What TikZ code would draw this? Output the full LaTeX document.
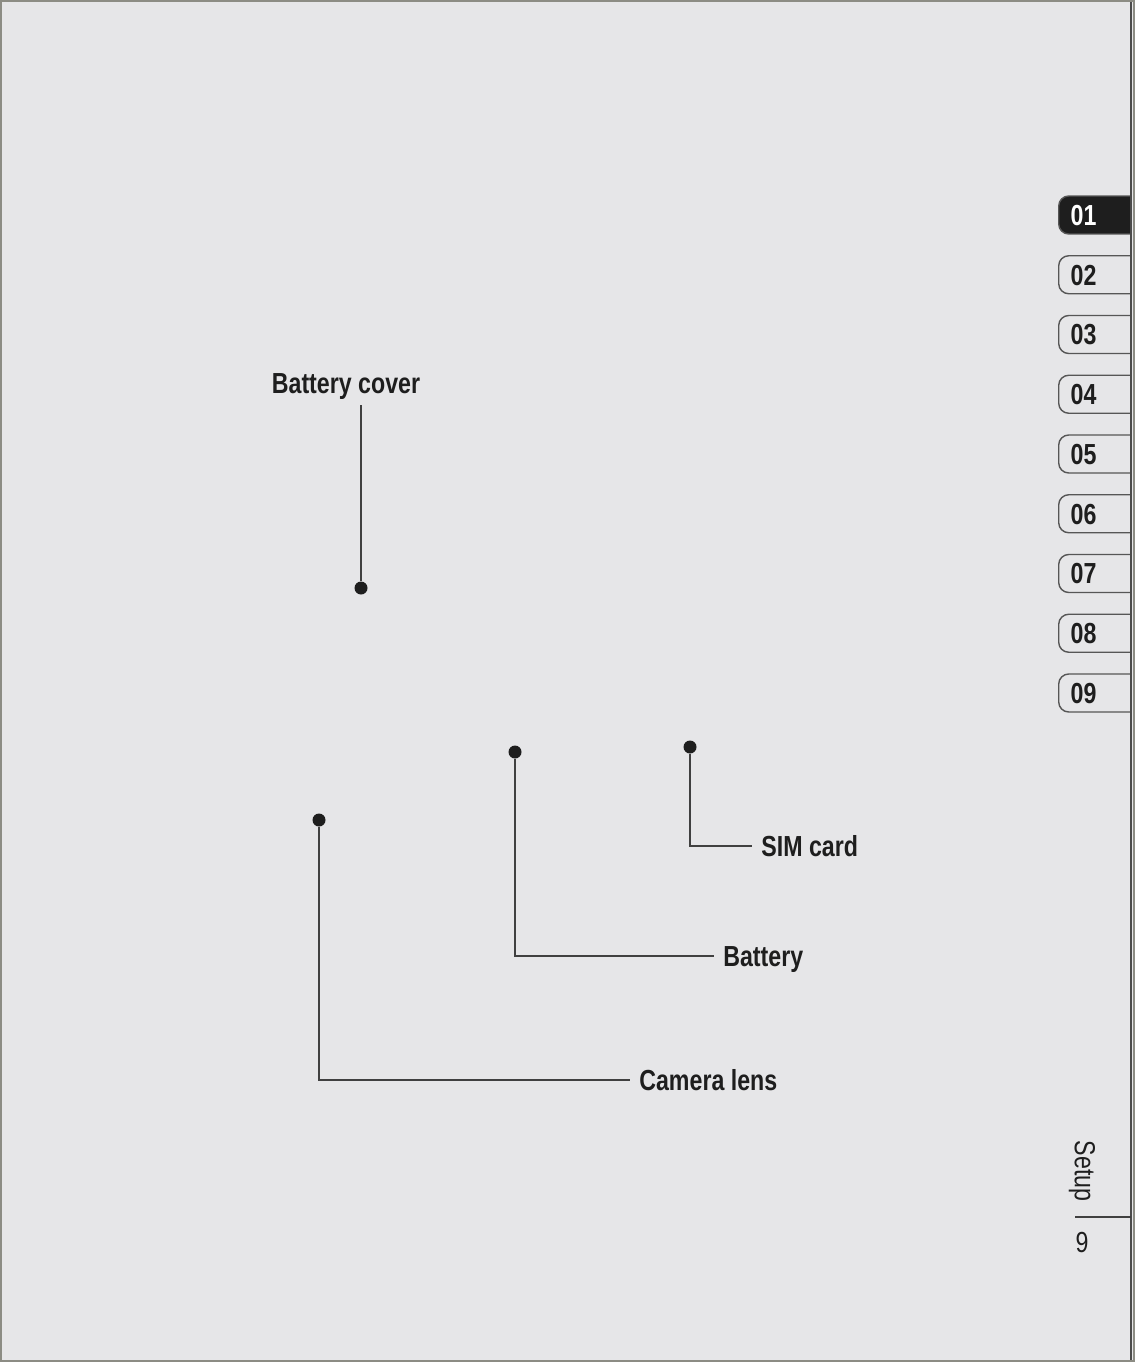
\documentclass[tikz,border=0pt]{standalone}
\usepackage{fontspec}
\setmainfont{Liberation Sans}[FakeStretch=0.8]
\usetikzlibrary{positioning}
\definecolor{pagebg}{RGB}{230,230,232}
\definecolor{framegray}{RGB}{140,140,132}
\definecolor{inkdark}{RGB}{30,30,30}

\begin{document}
\begin{tikzpicture}[
    x=0.02cm, y=-0.02cm,
    lbl/.style={font=\fontsize{16.5}{19}\selectfont\bfseries, text=inkdark,
      inner xsep=0.18cm, inner ysep=0.22cm, text height=0.41cm, text depth=0pt},
    dot/.style={circle, fill=inkdark, minimum size=0.26cm, inner sep=0pt},
    lead/.style={draw=inkdark!85, line width=0.8pt},
    tab/.style={draw=inkdark!75, line width=0.8pt, fill=pagebg, rounded corners=0.2cm,
      anchor=west, minimum height=0.76cm, text width=1.6cm, align=left, inner xsep=0.24cm,
      text height=0.41cm, text depth=0pt, text=inkdark, font=\fontsize{16.5}{19}\selectfont\bfseries},
    tabon/.style={tab, fill=inkdark, text=white},
  ]

  % --- page ---
  \fill[pagebg] (0,0) rectangle (1135,1362);
  \useasboundingbox (0,0) rectangle (1135,1362);

  % --- chapter tabs ---
  \begin{scope}
    \clip (0,0) rectangle (1131,1362);
    \node[tabon] (tab01) at (1058,215) {01};
    \foreach \n [count=\i] in {02,03,04,05,06,07,08,09} {
      \node[tab] (tab\n) at (1058,{215+\i*59.75}) {\n};
    }
  \end{scope}

  % --- page edge and frame ---
  \draw[inkdark!80, line width=1pt] (1131,0) -- (1131,1362);
  \draw[framegray, line width=1.5pt] (1,1) rectangle (1134,1361);

  % --- section name and page number ---
  \node[font=\fontsize{16.5}{19}\selectfont, text=inkdark, rotate=-90] (secname) at (1082,1171) {Setup};
  \coordinate (rulel) at (1075,1217);
  \coordinate (ruler) at (1131,1217);
  \draw[lead] (rulel) -- (ruler);
  \node[font=\fontsize{16.5}{19}\selectfont, text=inkdark] (pagenum) at (1082,1243) {9};

  % --- callout dots ---
  \node[dot] (dotcover) at (361,588) {};
  \node[dot] (dotbatt) at (515,752) {};
  \node[dot] (dotsim) at (690,747) {};
  \node[dot] (dotlens) at (319,820) {};

  % --- callout labels ---
  \node[lbl, anchor=south] (lblcover) at (346,405) {Battery cover};
  \node[lbl, anchor=west] (lblsim) at (752,846) {SIM card};
  \node[lbl, anchor=west] (lblbatt) at (714,956) {Battery};
  \node[lbl, anchor=west] (lbllens) at (630,1080) {Camera lens};

  % --- leaders ---
  \draw[lead] (dotcover) -- (dotcover |- lblcover.south);
  \draw[lead] (dotsim) |- (lblsim.west);
  \draw[lead] (dotbatt) |- (lblbatt.west);
  \draw[lead] (dotlens) |- (lbllens.west);

\end{tikzpicture}
\end{document}
